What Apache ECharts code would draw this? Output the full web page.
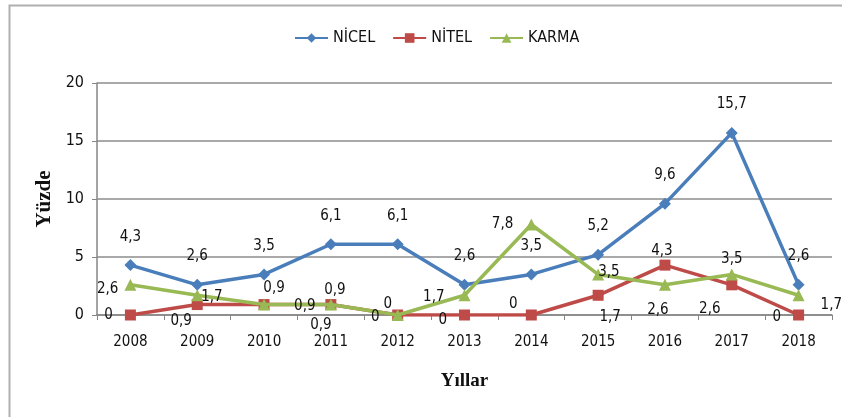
<!DOCTYPE html>
<html><head><meta charset="utf-8">
<script src="https://cdn.jsdelivr.net/npm/echarts@6/dist/echarts.min.js"></script>
<style>html,body{margin:0;padding:0;background:#fff}#c{width:842px;height:417px}</style>
</head><body><div id="c"></div>
<script>
const years = ['2008','2009','2010','2011','2012','2013','2014','2015','2016','2017','2018'];
const nicel = [4.3, 2.6, 3.5, 6.1, 6.1, 2.6, 3.5, 5.2, 9.6, 15.7, 2.6];
const nitel = [0, 0.9, 0.9, 0.9, 0, 0, 0, 1.7, 4.3, 2.6, 0];
const karma = [2.6, 1.7, 0.9, 0.9, 0, 1.7, 7.8, 3.5, 2.6, 3.5, 1.7];
const yTicks = [0, 5, 10, 15, 20];

// label placement (style only)
const nicelPos = ['top','top','top','top','top','top','top','top','top','top','top'];
const nitelPos = ['left','bottom','top','top','top','left','top','bottom','top','bottom','left'];
const karmaPos = ['left','right','right','bottom','left','left','left','right','bottom','top','right'];
const nitelOff = [[0,0],[-16,-8],[10,9],[4,11],[-10,14],[0,5],[-18,14],[12,-3],[-3,11],[-22,-1],[0,2]];
const karmaOff = [[6,4],[-14,2],[12,2],[-10,-5],[0,2],[-2,2],[0,0],[-18,-2],[-7,0],[0,10],[4,10]];

const FONT = "'Liberation Sans Narrow','DejaVu Sans Condensed','Liberation Sans',sans-serif";

function build(vals, pos, off) {
  return vals.map((v, i) => ({
    value: v,
    label: { position: pos[i], offset: off ? off[i] : [0, 0] }
  }));
}

const labelBase = { show: true, fontFamily: FONT, fontSize: 15, color: '#111', distance: 12,
  formatter: p => String(p.value).replace('.', ',') };

const chart = echarts.init(document.getElementById('c'), null, { renderer: 'canvas' });
chart.setOption({
  animation: false,
  backgroundColor: '#fff',
  graphic: [
    { type: 'polyline', silent: true, shape: { points: [[9.5, 417], [9.5, 5.5], [842, 5.5]] },
      style: { stroke: '#b0b0b0', lineWidth: 2, fill: null } }
  ],
  legend: {
    top: 25, left: 289,
    itemWidth: 33, itemHeight: 12, itemGap: 17,
    textStyle: { fontFamily: FONT, fontSize: 16, color: '#111' },
    data: ['NİCEL', 'NİTEL', 'KARMA']
  },
  grid: { left: 97, right: 10, top: 83, bottom: 102, containLabel: false },
  xAxis: {
    type: 'category', data: years, boundaryGap: true,
    name: 'Yıllar', nameLocation: 'middle', nameGap: 57,
    nameTextStyle: { fontFamily: "'Liberation Serif',serif", fontWeight: 'bold', fontSize: 19, color: '#111' },
    axisLine: { lineStyle: { color: '#868686', width: 1.5 } },
    axisTick: { show: true, length: 5, lineStyle: { color: '#868686' } },
    axisLabel: { fontFamily: FONT, fontSize: 15, color: '#111', margin: 20 }
  },
  yAxis: {
    type: 'value', min: yTicks[0], max: yTicks[yTicks.length - 1], interval: yTicks[1] - yTicks[0],
    name: 'Yüzde', nameLocation: 'middle', nameGap: 42, nameRotate: 90,
    nameTextStyle: { fontFamily: "'Liberation Serif',serif", fontWeight: 'bold', fontSize: 21, color: '#111' },
    axisLine: { show: true, lineStyle: { color: '#868686', width: 1.5 } },
    axisTick: { show: true, length: 5, lineStyle: { color: '#868686' } },
    axisLabel: { fontFamily: FONT, fontSize: 16, color: '#111', margin: 13 },
    splitLine: { lineStyle: { color: '#8c8c8c', width: 1.5 } }
  },
  series: [
    { name: 'NİCEL', type: 'line', data: build(nicel, nicelPos), symbol: 'diamond', symbolSize: 12,
      itemStyle: { color: '#4a7ebb' }, lineStyle: { color: '#4a7ebb', width: 3.5 },
      label: Object.assign({}, labelBase, { distance: 15 }), z: 3 },
    { name: 'NİTEL', type: 'line', data: build(nitel, nitelPos, nitelOff), symbol: 'rect', symbolSize: 11,
      itemStyle: { color: '#be4b48' }, lineStyle: { color: '#be4b48', width: 3.5 },
      label: Object.assign({}, labelBase), z: 2 },
    { name: 'KARMA', type: 'line', data: build(karma, karmaPos, karmaOff), symbol: 'triangle', symbolSize: 12,
      itemStyle: { color: '#98b954' }, lineStyle: { color: '#98b954', width: 3.5 },
      label: Object.assign({}, labelBase), z: 4 }
  ]
});
</script>
</body></html>
